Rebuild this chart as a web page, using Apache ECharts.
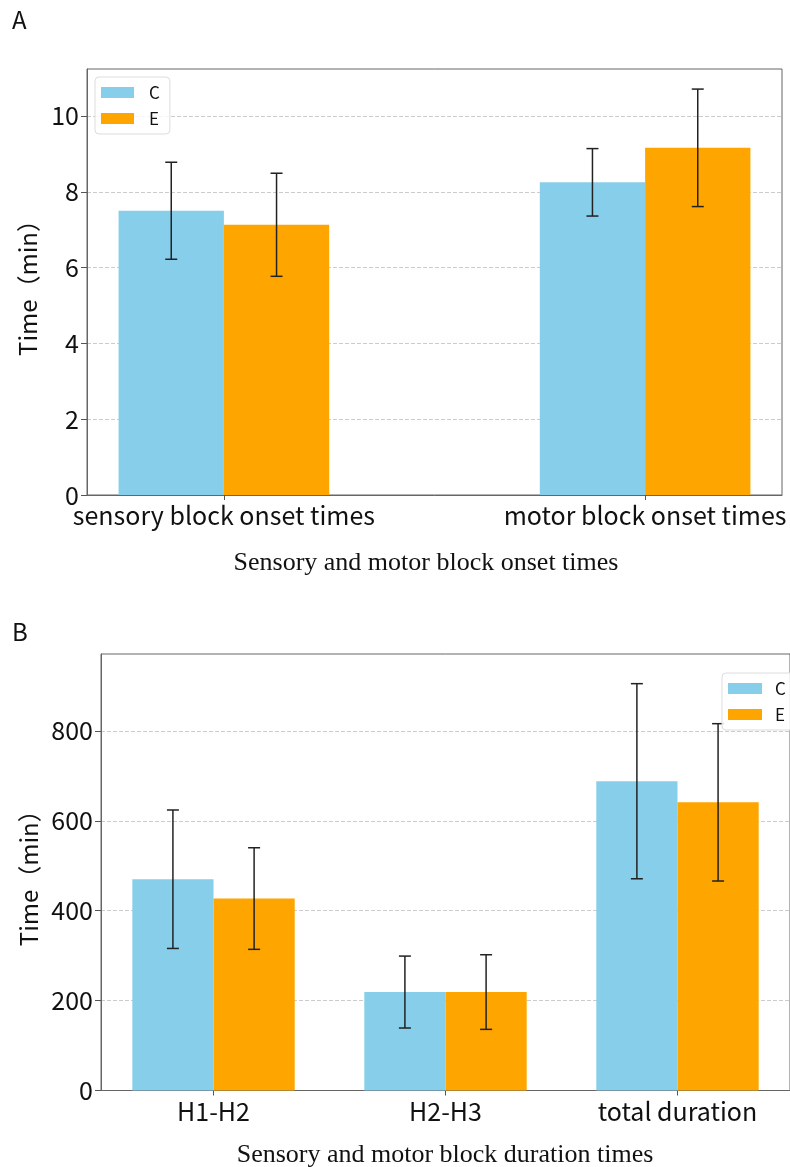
<!DOCTYPE html>
<html>
<head>
<meta charset="utf-8">
<script src="https://cdn.jsdelivr.net/npm/echarts@6/dist/echarts.min.js"></script>
<style>
html,body{margin:0;padding:0;background:#fff;}
#chart{width:790px;height:1167px;}
</style>
</head>
<body>
<div id="chart"></div>
<script>
// ---- data ----
const groups = ['C', 'E'];
const catsA = ['sensory block onset times', 'motor block onset times'];
const meanA_C = [7.50, 8.25];
const sdA_C = [1.28, 0.89];
const meanA_E = [7.13, 9.16];
const sdA_E = [1.36, 1.55];

const catsB = ['H1-H2', 'H2-H3', 'total duration'];
const meanB_C = [470, 219, 688];
const sdB_C = [154, 80, 217];
const meanB_E = [427, 219, 641];
const sdB_E = [113, 83, 175];

const yTicksA = [0, 2, 4, 6, 8, 10];
const yTicksB = [0, 200, 400, 600, 800];

const colorC = '#87CEEB';
const colorE = '#FFA500';
const sans = '"Noto Sans CJK SC", "Noto Sans", sans-serif';
const serif = '"Liberation Serif", "Times New Roman", serif';

function barData(means, offset, width) {
  return means.map((m, i) => [i + offset, m, width]);
}
function errData(means, sds, offset) {
  return means.map((m, i) => [i + offset, m - sds[i], m + sds[i]]);
}
function renderBar(params, api) {
  const x = api.value(0), y = api.value(1), w = api.value(2);
  const p0 = api.coord([x - w / 2, y]);
  const p1 = api.coord([x + w / 2, 0]);
  return {
    type: 'rect',
    shape: {x: p0[0], y: p0[1], width: p1[0] - p0[0], height: p1[1] - p0[1]},
    style: api.style()
  };
}
function renderErr(params, api) {
  const x = api.value(0);
  const lo = api.coord([x, api.value(1)]);
  const hi = api.coord([x, api.value(2)]);
  const cw = 6;
  const st = {stroke: '#222', lineWidth: 1.5};
  return {
    type: 'group',
    children: [
      {type: 'line', shape: {x1: lo[0], y1: lo[1], x2: hi[0], y2: hi[1]}, style: st},
      {type: 'line', shape: {x1: lo[0] - cw, y1: lo[1], x2: lo[0] + cw, y2: lo[1]}, style: st},
      {type: 'line', shape: {x1: hi[0] - cw, y1: hi[1], x2: hi[0] + cw, y2: hi[1]}, style: st}
    ]
  };
}

const wA = 0.25, wB = 0.35;

function xAxisCfg(gridIndex, min, max, cats) {
  const idx = cats.map((c, i) => i);
  return {
    gridIndex, type: 'value', min, max,
    axisLine: {show: true, onZero: false, lineStyle: {color: '#666'}},
    axisTick: {show: true, customValues: idx, length: 5, lineStyle: {color: '#555'}},
    axisLabel: {customValues: idx, formatter: v => cats[Math.round(v)] || '', fontSize: 25,
      color: '#111', fontFamily: sans, margin: 8},
    splitLine: {show: false}
  };
}
function yAxisCfg(gridIndex, max, interval, ticks, gap) {
  return {
    gridIndex, type: 'value', min: 0, max, interval,
    name: 'Time（min）', nameLocation: 'middle', nameGap: gap,
    nameTextStyle: {fontSize: 24, color: '#111', fontFamily: sans},
    axisLine: {show: true, onZero: false, lineStyle: {color: '#666'}},
    axisTick: {show: true, customValues: ticks, length: 6, lineStyle: {color: '#555'}},
    axisLabel: {customValues: ticks, fontSize: 25, color: '#111', fontFamily: sans, margin: 8},
    splitLine: {show: true, lineStyle: {color: '#ccc', type: 'dashed', width: 1}}
  };
}

const chart = echarts.init(document.getElementById('chart'), null, {renderer: 'canvas', width: 790, height: 1167});
chart.setOption({
  animation: false,
  backgroundColor: '#fff',
  grid: [
    {left: 87, top: 69, width: 695, height: 426, show: true, borderColor: '#666', borderWidth: 1},
    {left: 101, top: 654, width: 700, height: 436.5, show: true, borderColor: '#666', borderWidth: 1}
  ],
  xAxis: [
    xAxisCfg(0, -0.325, 1.325, catsA),
    xAxisCfg(1, -0.485, 2.485, catsB)
  ],
  yAxis: [
    yAxisCfg(0, 11.24, 2, yTicksA, 39),
    yAxisCfg(1, 971, 200, yTicksB, 58)
  ],
  legend: [
    {
      data: groups, orient: 'vertical', left: 95, top: 77,
      itemWidth: 33, itemHeight: 11, itemGap: 9, icon: 'rect',
      textStyle: {fontSize: 17, color: '#111', fontFamily: sans, padding: [0, 0, 0, 10]},
      borderColor: '#ddd', borderWidth: 1, borderRadius: 4, padding: [7, 10, 7, 6],
      backgroundColor: 'rgba(255,255,255,0.8)',
      selectedMode: false
    },
    {
      data: groups, orient: 'vertical', left: 722, top: 673,
      itemWidth: 34, itemHeight: 11, itemGap: 9, icon: 'rect',
      textStyle: {fontSize: 17, color: '#111', fontFamily: sans, padding: [0, 0, 0, 8]},
      borderColor: '#ddd', borderWidth: 1, borderRadius: 4, padding: [7, 12, 7, 6],
      backgroundColor: 'rgba(255,255,255,0.85)',
      selectedMode: false, z: 20
    }
  ],
  graphic: [
    {type: 'text', left: 12, top: 8, style: {text: 'A', fontSize: 24, fill: '#111', fontFamily: sans}},
    {type: 'text', left: 12, top: 620, style: {text: 'B', fontSize: 24, fill: '#111', fontFamily: sans}},
    {type: 'text', x: 426, y: 563, style: {text: 'Sensory and motor block onset times', fontSize: 26,
      fill: '#111', fontFamily: serif, align: 'center', verticalAlign: 'middle'}},
    {type: 'text', x: 445, y: 1155, style: {text: 'Sensory and motor block duration times', fontSize: 26,
      fill: '#111', fontFamily: serif, align: 'center', verticalAlign: 'middle'}}
  ],
  series: [
    {name: 'C', type: 'custom', xAxisIndex: 0, yAxisIndex: 0, renderItem: renderBar,
      itemStyle: {color: colorC}, data: barData(meanA_C, -wA / 2, wA), z: 2},
    {name: 'E', type: 'custom', xAxisIndex: 0, yAxisIndex: 0, renderItem: renderBar,
      itemStyle: {color: colorE}, data: barData(meanA_E, wA / 2, wA), z: 2},
    {type: 'custom', xAxisIndex: 0, yAxisIndex: 0, renderItem: renderErr,
      data: errData(meanA_C, sdA_C, -wA / 2), z: 3},
    {type: 'custom', xAxisIndex: 0, yAxisIndex: 0, renderItem: renderErr,
      data: errData(meanA_E, sdA_E, wA / 2), z: 3},
    {name: 'C', type: 'custom', xAxisIndex: 1, yAxisIndex: 1, renderItem: renderBar,
      itemStyle: {color: colorC}, data: barData(meanB_C, -wB / 2, wB), z: 2},
    {name: 'E', type: 'custom', xAxisIndex: 1, yAxisIndex: 1, renderItem: renderBar,
      itemStyle: {color: colorE}, data: barData(meanB_E, wB / 2, wB), z: 2},
    {type: 'custom', xAxisIndex: 1, yAxisIndex: 1, renderItem: renderErr,
      data: errData(meanB_C, sdB_C, -wB / 2), z: 3},
    {type: 'custom', xAxisIndex: 1, yAxisIndex: 1, renderItem: renderErr,
      data: errData(meanB_E, sdB_E, wB / 2), z: 3}
  ]
});
</script>
</body>
</html>
